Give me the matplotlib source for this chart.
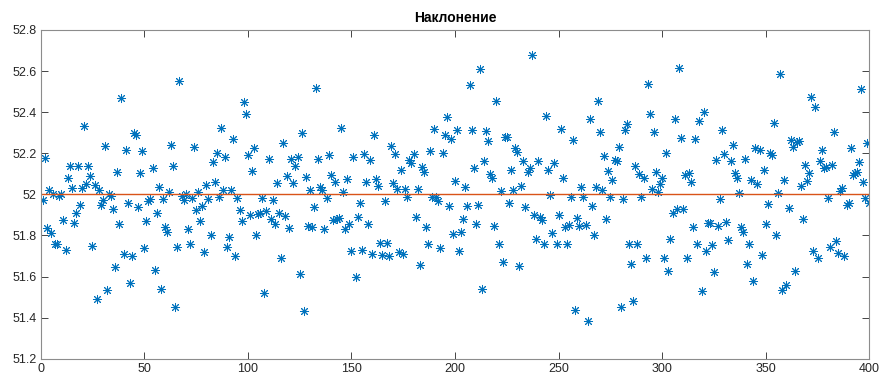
import numpy as np
import matplotlib
matplotlib.use("Agg")
import matplotlib.pyplot as plt

plt.rcParams['font.family'] = ['Liberation Sans Narrow', 'Liberation Sans', 'DejaVu Sans']

# slope estimate for each of the 400 samples
slope = [
    51.97, 52.175, 51.835, 52.02, 51.81, 52.0, 51.76, 51.76, 51.99, 52.0,
    51.875, 51.73, 52.08, 52.14, 52.03, 51.86, 51.91, 52.14, 51.95, 52.03,
    52.33, 52.05, 52.14, 52.09, 51.75, 52.045, 51.49, 52.02, 51.95, 51.97,
    52.235, 51.535, 52.0, 51.99, 51.93, 51.645, 52.11, 51.855, 52.47, 51.71,
    52.215, 51.96, 51.57, 51.70, 52.30, 52.29, 51.94, 52.105, 52.21, 51.74,
    51.87, 51.965, 51.975, 52.13, 51.63, 51.91, 52.035, 51.54, 51.975, 51.84,
    51.815, 52.01, 52.24, 52.14, 51.45, 51.745, 52.55, 51.99, 51.97, 52.0,
    51.83, 51.76, 51.98, 52.23, 51.925, 52.01, 51.87, 51.945, 51.72, 52.045,
    51.975, 51.80, 52.155, 52.06, 52.2, 51.985, 52.325, 52.02, 52.18, 51.745,
    51.79, 52.02, 52.27, 51.70, 51.98, 51.925, 51.87, 52.45, 52.39, 52.19,
    51.9, 52.115, 52.227, 51.80, 51.905, 51.91, 51.98, 51.52, 51.92, 52.17,
    51.88, 51.97, 51.855, 52.055, 51.91, 51.69, 52.25, 51.895, 52.09, 51.835,
    52.17, 52.055, 52.14, 52.18, 51.61, 52.30, 51.43, 52.085, 51.845, 52.02,
    51.84, 51.94, 52.515, 52.17, 52.035, 52.02, 51.83, 51.98, 52.19, 52.095,
    51.875, 52.06, 51.88, 51.885, 52.325, 52.01, 51.83, 52.075, 51.855, 51.725,
    52.18, 51.60, 51.89, 51.956, 51.73, 52.195, 52.06, 51.855, 52.165, 51.71,
    52.29, 52.075, 52.04, 51.765, 51.705, 51.965, 51.765, 51.70, 52.237, 52.055,
    52.195, 52.025, 51.72, 52.12, 51.71, 52.025, 51.985, 52.165, 52.15, 52.195,
    51.89, 52.025, 51.655, 52.135, 52.11, 51.84, 51.76, 52.21, 51.985, 52.32,
    51.985, 51.965, 51.74, 52.2, 52.29, 52.375, 51.945, 52.27, 51.805, 52.065,
    52.315, 51.725, 51.815, 51.88, 52.037, 51.945, 52.53, 52.313, 52.127, 51.855,
    51.948, 52.61, 51.54, 52.162, 52.31, 52.26, 52.097, 52.078, 51.848, 52.454,
    51.757, 52.018, 51.67, 52.277, 52.277, 51.96, 52.118, 52.022, 52.224, 52.204,
    51.653, 52.04, 52.162, 51.937, 52.11, 52.13, 52.678, 51.9, 51.783, 52.162,
    51.888, 51.875, 51.758, 52.38, 52.118, 51.997, 51.81, 52.154, 51.757, 51.9,
    52.32, 52.08, 51.843, 51.76, 51.85, 51.989, 52.264, 51.437, 51.883, 51.848,
    52.034, 51.989, 51.85, 51.384, 52.365, 51.945, 51.8, 52.034, 52.454, 52.305,
    52.021, 52.186, 51.88, 52.114, 51.985, 52.07, 52.167, 52.162, 52.232, 51.453,
    51.976, 52.313, 52.34, 51.758, 51.661, 51.48, 52.138, 51.758, 52.097, 51.985,
    52.078, 51.689, 52.535, 52.39, 52.026, 52.305, 52.11, 52.013, 52.049, 52.08,
    51.689, 52.2, 51.627, 51.783, 51.91, 52.365, 51.927, 52.613, 52.276, 51.927,
    52.094, 51.689, 52.105, 52.062, 51.84, 52.268, 51.757, 52.358, 51.53, 52.402,
    51.726, 51.859, 51.859, 51.754, 51.62, 52.167, 51.848, 51.977, 52.313, 52.196,
    51.867, 51.778, 52.164, 52.24, 52.105, 52.078, 52.008, 51.843, 51.815, 52.17,
    51.661, 51.757, 52.07, 51.58, 52.227, 52.049, 52.216, 51.705, 52.118, 51.855,
    51.951, 52.203, 52.19, 52.349, 51.8, 52.005, 52.584, 51.534, 52.07, 51.559,
    51.932, 52.264, 52.232, 51.627, 52.256, 52.26, 52.04, 51.88, 52.143, 52.066,
    52.105, 52.475, 51.724, 52.423, 51.689, 52.162, 52.216, 52.13, 52.135, 51.984,
    51.745, 52.143, 52.305, 51.773, 51.716, 52.018, 52.03, 51.702, 51.948, 51.956,
    52.224, 52.094, 52.102, 52.11, 52.159, 52.51, 52.058, 51.984, 52.248, 51.956,
]
samples = np.arange(1, len(slope) + 1)

# fitted constant level
fit_x = [0, 400]
fit_y = [52.0, 52.0]

xticks = [0, 50, 100, 150, 200, 250, 300, 350, 400]
yticks = [51.2, 51.4, 51.6, 51.8, 52.0, 52.2, 52.4, 52.6, 52.8]
ylabels = ['51.2', '51.4', '51.6', '51.8', '52', '52.2', '52.4', '52.6', '52.8']

fig = plt.figure(figsize=(8.81, 3.78), dpi=100)
ax = fig.add_axes([40.7 / 881, 19.3 / 378, 828.6 / 881, 328.8 / 378])

ax.plot(samples, slope, linestyle='none', marker=(8, 2, 0), markersize=6.5,
        markeredgewidth=0.7, color='#0072BD')
ax.plot(fit_x, fit_y, color='#D95319', linewidth=1.0)

ax.set_xlim(0, 400)
ax.set_ylim(51.2, 52.8)
ax.set_xticks(xticks)
ax.set_yticks(yticks)
ax.set_yticklabels(ylabels)
ax.tick_params(direction='in', length=5, width=0.6, colors='#262626',
               labelsize=9, top=True, right=True, pad=3)
for s in ax.spines.values():
    s.set_color('#8c8c8c')
    s.set_linewidth(0.8)

ax.set_title('Наклонение', fontsize=10, fontweight='bold', color='#000000', pad=6)

fig.savefig('out.png', dpi=100)
